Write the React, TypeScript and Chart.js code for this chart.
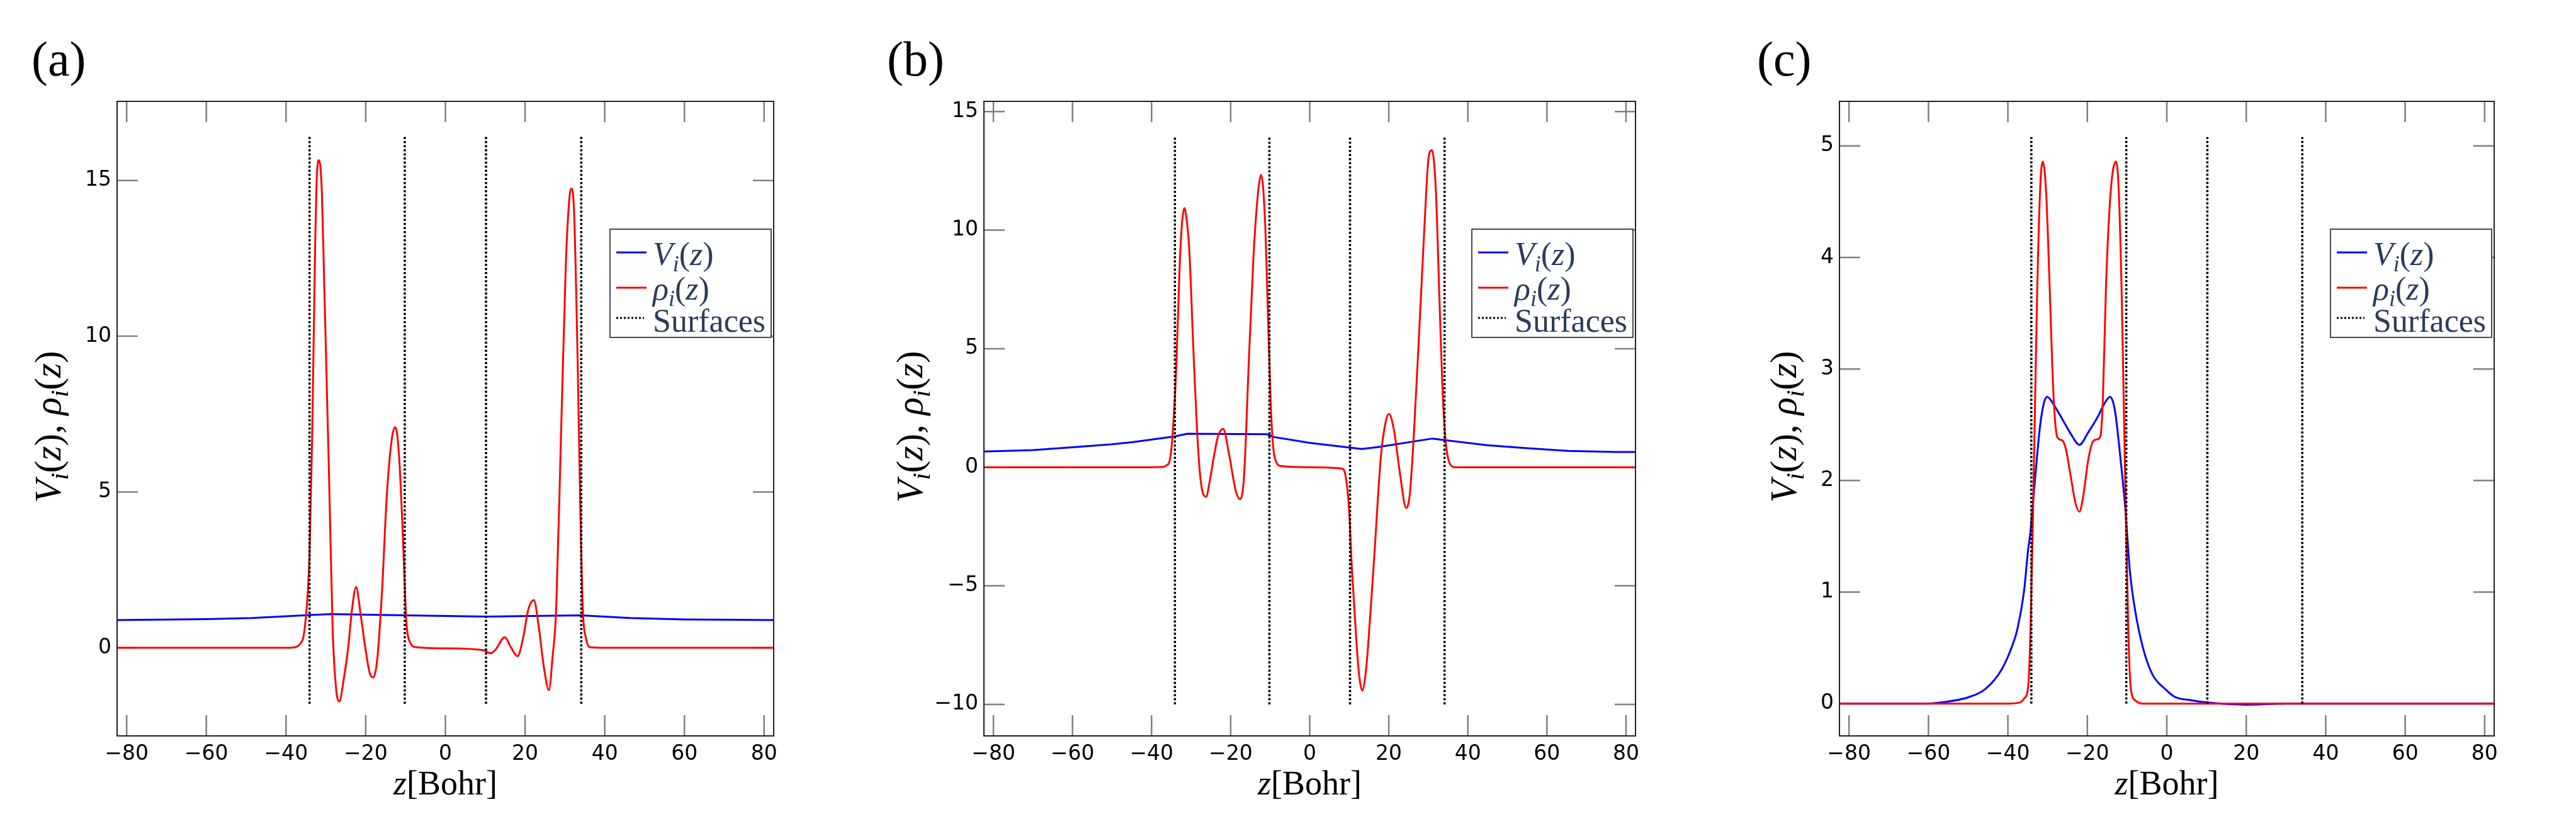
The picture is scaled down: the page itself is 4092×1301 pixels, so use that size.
import React, { useEffect, useRef } from 'react';
import { Chart, registerables } from 'chart.js';

Chart.register(...registerables);

// ---------- shared axis data ----------
const zRange = [-82.4, 82.4];
const xTickValues = [-80, -60, -40, -20, 0, 20, 40, 60, 80];
const surfaceZ = [-34.1, -10.2, 10.2, 34.1];

// ---------- panel (a) ----------
const aYTicks = [0, 5, 10, 15];
const aYRange = [-2.83, 17.54];
const aSurfSpan = [-1.8, 16.4];
const aV: [number, number][] = [
  [-82.4, 0.89], [-60, 0.92], [-48.6, 0.955], [-34.1, 1.05], [-28.6, 1.08], [-9.8, 1.04],
  [10.2, 1.0], [22, 1.02], [34.1, 1.04], [46.4, 0.955], [60, 0.91], [82.4, 0.89],
];
const aRho: [number, number][] = [
  [-82.4, 0], [-40, 0], [-37.7, 0.02], [-36.5, 0.12], [-35.6, 0.37], [-35.0, 1.0], [-34.5, 1.85],
  [-34.1, 3.0], [-33.45, 6.7], [-32.7, 12.8], [-32.2, 15.3], [-31.7, 15.65], [-31.0, 14.6],
  [-30.4, 11.6], [-29.2, 5.5], [-28.3, 0.6], [-27.4, -1.35], [-26.6, -1.72], [-25.5, -1.0],
  [-24.4, 0.0], [-23.45, 1.22], [-22.4, 1.95], [-21.3, 1.1], [-20.1, 0.0], [-18.9, -0.85],
  [-18.1, -0.95], [-17.1, -0.37], [-15.9, 1.83], [-14.7, 4.9], [-13.45, 6.7], [-12.55, 7.08],
  [-11.6, 6.1], [-10.7, 3.66], [-9.8, 0.85], [-8.9, 0.18], [-7.4, 0.02], [0, -0.02], [9.6, -0.08],
  [11.4, -0.18], [12.6, -0.06], [14.9, 0.34], [16.5, 0.0], [18.1, -0.27], [19.6, 0.37],
  [20.8, 1.22], [22.2, 1.53], [23.5, 0.61], [24.7, -0.61], [26.0, -1.36], [26.9, -0.3],
  [27.8, 1.22], [29.0, 6.7], [30.2, 12.2], [31.1, 14.4], [31.6, 14.74], [32.3, 14.0],
  [33.2, 9.16], [33.9, 4.27], [34.5, 1.22], [35.3, 0.3], [36.2, 0.02], [40, 0], [82.4, 0],
];

// ---------- panel (b) ----------
const bYTicks = [-10, -5, 0, 5, 10, 15];
const bYRange = [-11.33, 15.43];
const bSurfSpan = [-10.0, 13.95];
const bV: [number, number][] = [
  [-82.4, 0.66], [-70, 0.72], [-60, 0.84], [-50, 0.97], [-44.7, 1.06], [-34.1, 1.3],
  [-30.9, 1.41], [-10.9, 1.39], [-8.9, 1.27], [0, 1.03], [13.1, 0.77], [17.2, 0.85],
  [31.05, 1.21], [34.3, 1.14], [44.9, 0.93], [55, 0.8], [65.3, 0.69], [77.5, 0.64], [82.4, 0.64],
];
const bRho: [number, number][] = [
  [-82.4, 0], [-40, 0], [-37, 0.01], [-36.2, 0.08], [-35.4, 0.29], [-34.6, 1.57], [-33.7, 4.46],
  [-32.9, 8.5], [-32.3, 10.3], [-31.7, 10.93], [-31.1, 10.4], [-30.5, 9.3], [-29.3, 4.46],
  [-28.4, 1.25], [-27.5, -0.67], [-26.2, -1.24], [-25.3, -0.6], [-24.4, 0.29], [-23.2, 1.3],
  [-21.9, 1.62], [-20.3, 0.45], [-18.7, -1.0], [-17.6, -1.35], [-16.6, -0.35], [-15.4, 4.46],
  [-14.2, 8.96], [-13.0, 11.7], [-12.3, 12.33], [-11.3, 10.4], [-10.5, 6.07], [-9.7, 2.05],
  [-8.9, 0.45], [-7.25, 0.05], [0, 0], [8.2, -0.06], [9.05, -0.35], [9.9, -1.64], [10.7, -4.37],
  [11.9, -7.58], [12.6, -8.9], [13.3, -9.42], [14.0, -8.9], [14.75, -7.58], [16.4, -3.56],
  [18.0, 0.45], [19.2, 1.9], [20.05, 2.25], [21.3, 1.57], [22.9, -0.35], [24.4, -1.72],
  [25.3, -1.16], [26.3, 1.25], [27.8, 6.07], [29.0, 10.1], [30.1, 13.1], [30.9, 13.37],
  [31.9, 11.7], [32.7, 7.7], [33.5, 3.66], [34.3, 1.25], [35.5, 0.13], [36.8, 0], [82.4, 0],
];

// ---------- panel (c) ----------
const cYTicks = [0, 1, 2, 3, 4, 5];
const cYRange = [-0.29, 5.4];
const cSurfSpan = [0.0, 5.08];
const cV: [number, number][] = [
  [-82.4, 0], [-60, 0.0], [-56.8, 0.01], [-50, 0.056], [-45.7, 0.13], [-41.5, 0.31],
  [-38.4, 0.57], [-37.6, 0.67], [-35.9, 1.02], [-35.0, 1.35], [-34.3, 1.55], [-33.1, 2.04],
  [-31.9, 2.49], [-30.9, 2.7], [-30.1, 2.75], [-28.3, 2.67], [-26.3, 2.55], [-24.2, 2.42],
  [-22, 2.32], [-19.8, 2.43], [-17.4, 2.57], [-15.7, 2.69], [-14.3, 2.75], [-13.5, 2.7],
  [-12.9, 2.59], [-11.7, 2.21], [-10.5, 1.77], [-9.3, 1.19], [-8, 0.84], [-6, 0.5],
  [-3.6, 0.26], [-0.4, 0.13], [2, 0.06], [6, 0.03], [10, 0.01], [20, -0.01], [30, 0], [82.4, 0],
];
const cRho: [number, number][] = [
  [-82.4, 0], [-40, 0], [-37, 0.01], [-35.8, 0.05], [-34.9, 0.15], [-34.3, 0.67], [-33.5, 2.04],
  [-32.7, 3.58], [-31.9, 4.6], [-31.25, 4.86], [-30.4, 4.6], [-29.5, 3.75], [-28.7, 2.9],
  [-27.9, 2.45], [-27.1, 2.37], [-26.3, 2.36], [-25.4, 2.28], [-24.2, 2.04], [-23.0, 1.8],
  [-22.0, 1.72], [-21.0, 1.87], [-19.8, 2.18], [-18.6, 2.35], [-17.5, 2.37], [-16.7, 2.4],
  [-16.1, 2.72], [-15.3, 3.75], [-14.1, 4.6], [-12.8, 4.86], [-12.1, 4.6], [-11.3, 3.58],
  [-10.5, 2.04], [-9.7, 0.67], [-9.1, 0.15], [-8.0, 0.03], [-6, 0], [82.4, 0],
];

const panelLabels = ['(a)', '(b)', '(c)'];

// ---------- layout (pixels) ----------
type PanelCfg = {
  label: string;
  canvasLeft: number;
  canvasWidth: number;
  plotLeft: number;
  plotRight: number;
  labelX: number;
  yTitleOffset: number;
  yTicks: number[];
  yRange: number[];
  surfSpan: number[];
  V: [number, number][];
  rho: [number, number][];
  smoothV: boolean;
};

const H = 1301;
const PLOT_TOP = 161;
const PLOT_BOTTOM = 1169;
const Y_AXIS_W = 100;
const X_AXIS_H = 100;
const TICK_LEN = 33;

const panels: PanelCfg[] = [
  { label: panelLabels[0], canvasLeft: 0, canvasWidth: 1330, plotLeft: 186, plotRight: 1229, labelX: 50, yTitleOffset: 128, yTicks: aYTicks, yRange: aYRange, surfSpan: aSurfSpan, V: aV, rho: aRho, smoothV: false },
  { label: panelLabels[1], canvasLeft: 1330, canvasWidth: 1350, plotLeft: 1563, plotRight: 2598, labelX: 1409, yTitleOffset: 136, yTicks: bYTicks, yRange: bYRange, surfSpan: bSurfSpan, V: bV, rho: bRho, smoothV: false },
  { label: panelLabels[2], canvasLeft: 2680, canvasWidth: 1412, plotLeft: 2922, plotRight: 3962, labelX: 2791, yTitleOffset: 107, yTicks: cYTicks, yRange: cYRange, surfSpan: cSurfSpan, V: cV, rho: cRho, smoothV: true },
];

// ---------- rich text helpers ----------
type Seg = { t: string; font: string; dy?: number };
const SERIF = '"Liberation Serif", "Times New Roman", serif';

function measureRich(ctx: CanvasRenderingContext2D, segs: Seg[]) {
  let w = 0;
  for (const s of segs) {
    ctx.font = s.font;
    w += ctx.measureText(s.t).width;
  }
  return w;
}
function drawRich(ctx: CanvasRenderingContext2D, segs: Seg[], x: number, y: number) {
  let cx = x;
  for (const s of segs) {
    ctx.font = s.font;
    ctx.fillText(s.t, cx, y + (s.dy || 0));
    cx += ctx.measureText(s.t).width;
  }
}
function funcSegs(sym: string, size: number): Seg[] {
  const it = `italic ${size}px ${SERIF}`;
  const up = `${size}px ${SERIF}`;
  const sub = `italic ${Math.round(size * 0.7)}px ${SERIF}`;
  return [
    { t: sym, font: it },
    { t: 'i', font: sub, dy: size * 0.2 },
    { t: '(', font: up },
    { t: 'z', font: it },
    { t: ')', font: up },
  ];
}

function fmtTick(v: number | string) {
  const n = Number(v);
  return n < 0 ? '\u2212' + Math.abs(n) : String(n);
}

function makeDecor(p: PanelCfg) {
  return {
    id: 'decor',
    beforeDatasetsDraw(chart: any) {
      const { ctx, chartArea: a, scales } = chart;
      ctx.save();
      ctx.strokeStyle = '#808080';
      ctx.lineWidth = 2.5;
      ctx.beginPath();
      for (const v of xTickValues) {
        const px = scales.x.getPixelForValue(v);
        ctx.moveTo(px, a.top);
        ctx.lineTo(px, a.top + TICK_LEN);
        ctx.moveTo(px, a.bottom);
        ctx.lineTo(px, a.bottom - TICK_LEN);
      }
      for (const v of p.yTicks) {
        const py = scales.y.getPixelForValue(v);
        ctx.moveTo(a.left, py);
        ctx.lineTo(a.left + TICK_LEN, py);
        ctx.moveTo(a.right, py);
        ctx.lineTo(a.right - TICK_LEN, py);
      }
      ctx.stroke();
      ctx.restore();
    },
    afterDatasetsDraw(chart: any) {
      const { ctx, chartArea: a } = chart;
      ctx.save();
      ctx.strokeStyle = '#222';
      ctx.lineWidth = 2;
      ctx.strokeRect(a.left, a.top, a.right - a.left, a.bottom - a.top);
      ctx.restore();
    },
    afterDraw(chart: any) {
      const { ctx, chartArea: a } = chart;
      ctx.save();
      ctx.textAlign = 'left';
      ctx.textBaseline = 'alphabetic';

      // panel label
      ctx.fillStyle = '#000';
      ctx.font = `78px ${SERIF}`;
      ctx.fillText(p.label, p.labelX - p.canvasLeft, 120);

      // x title
      const xs = 54;
      const xSegs: Seg[] = [
        { t: 'z', font: `italic ${xs}px ${SERIF}` },
        { t: '[Bohr]', font: `${xs}px ${SERIF}` },
      ];
      const xw = measureRich(ctx, xSegs);
      drawRich(ctx, xSegs, (a.left + a.right) / 2 - xw / 2, 1262);

      // y title (rotated)
      const ys = 59;
      const ySegs: Seg[] = [
        ...funcSegs('V', ys),
        { t: ', ', font: `${ys}px ${SERIF}` },
        ...funcSegs('\u03C1', ys),
      ];
      const yw = measureRich(ctx, ySegs);
      const bx = a.left - p.yTitleOffset + ys * 0.64;
      ctx.save();
      ctx.translate(bx, 678);
      ctx.rotate(-Math.PI / 2);
      drawRich(ctx, ySegs, -yw / 2, 0);
      ctx.restore();

      // legend
      const lw = 256, lh = 172;
      const lx = a.right - 4 - lw, ly = 364;
      ctx.fillStyle = '#fff';
      ctx.fillRect(lx, ly, lw, lh);
      ctx.strokeStyle = '#111';
      ctx.lineWidth = 1.5;
      ctx.strokeRect(lx, ly, lw, lh);
      const ls = 52;
      const rows = [
        { color: '#0000ff', dash: [] as number[], lineY: 37, base: 57, len: 48, segs: funcSegs('V', ls) },
        { color: '#ff0000', dash: [] as number[], lineY: 93, base: 112, len: 48, segs: funcSegs('\u03C1', ls) },
        { color: '#000000', dash: [3, 3], lineY: 141, base: 163, len: 44, segs: [{ t: 'Surfaces', font: `${ls}px ${SERIF}` }] as Seg[] },
      ];
      for (const r of rows) {
        ctx.strokeStyle = r.color;
        ctx.lineWidth = 3;
        ctx.setLineDash(r.dash);
        ctx.beginPath();
        ctx.moveTo(lx + 10, ly + r.lineY);
        ctx.lineTo(lx + 10 + r.len, ly + r.lineY);
        ctx.stroke();
        ctx.setLineDash([]);
        ctx.fillStyle = '#2b3c5a';
        drawRich(ctx, r.segs, lx + 68, ly + r.base);
      }
      ctx.restore();
    },
  };
}

function buildConfig(p: PanelCfg): any {
  const surfPts: { x: number; y: number | null }[] = [];
  for (const s of surfaceZ) {
    surfPts.push({ x: s, y: p.surfSpan[0] });
    surfPts.push({ x: s, y: p.surfSpan[1] });
    surfPts.push({ x: s, y: null });
  }
  const localLeft = p.plotLeft - p.canvasLeft;
  const localRight = p.plotRight - p.canvasLeft;
  return {
    type: 'line',
    data: {
      datasets: [
        {
          label: 'V_i(z)',
          data: p.V.map(([x, y]) => ({ x, y })),
          borderColor: '#0000ff',
          borderWidth: 3,
          pointRadius: 0,
          tension: 0,
          cubicInterpolationMode: p.smoothV ? 'monotone' : 'default',
          order: 3,
        },
        {
          label: 'rho_i(z)',
          data: p.rho.map(([x, y]) => ({ x, y })),
          borderColor: '#ff0000',
          borderWidth: 3,
          pointRadius: 0,
          cubicInterpolationMode: 'monotone',
          order: 2,
        },
        {
          label: 'Surfaces',
          data: surfPts,
          borderColor: '#000000',
          borderWidth: 3.5,
          borderDash: [3.5, 3],
          pointRadius: 0,
          tension: 0,
          spanGaps: false,
          order: 1,
        },
      ],
    },
    options: {
      animation: false,
      responsive: false,
      maintainAspectRatio: false,
      events: [],
      layout: {
        padding: {
          left: localLeft - Y_AXIS_W,
          right: p.canvasWidth - localRight,
          top: PLOT_TOP,
          bottom: H - PLOT_BOTTOM - X_AXIS_H,
        },
      },
      plugins: { legend: { display: false }, tooltip: { enabled: false }, title: { display: false } },
      scales: {
        x: {
          type: 'linear',
          min: zRange[0],
          max: zRange[1],
          afterBuildTicks: (s: any) => { s.ticks = xTickValues.map((v) => ({ value: v })); },
          afterFit: (s: any) => { s.height = X_AXIS_H; },
          ticks: {
            callback: (v: any) => fmtTick(v),
            font: { family: '"DejaVu Sans"', size: 33 },
            color: '#000',
            padding: 10,
            maxRotation: 0,
            autoSkip: false,
          },
          grid: { display: false, drawTicks: false },
          border: { display: false },
        },
        y: {
          type: 'linear',
          min: p.yRange[0],
          max: p.yRange[1],
          afterBuildTicks: (s: any) => { s.ticks = p.yTicks.map((v) => ({ value: v })); },
          afterFit: (s: any) => { s.width = Y_AXIS_W; },
          ticks: {
            callback: (v: any) => fmtTick(v),
            font: { family: '"DejaVu Sans"', size: 33 },
            color: '#000',
            padding: 9,
            autoSkip: false,
          },
          grid: { display: false, drawTicks: false },
          border: { display: false },
        },
      },
    },
    plugins: [makeDecor(p)],
  };
}

function Panel({ p }: { p: PanelCfg }) {
  const ref = useRef<HTMLCanvasElement | null>(null);
  useEffect(() => {
    if (!ref.current) return;
    const chart = new Chart(ref.current, buildConfig(p));
    return () => chart.destroy();
  }, [p]);
  return (
    <canvas
      ref={ref}
      width={p.canvasWidth}
      height={H}
      style={{ position: 'absolute', left: p.canvasLeft, top: 0, width: p.canvasWidth, height: H }}
    />
  );
}

export default function App() {
  return (
    <div style={{ position: 'fixed', left: 0, top: 0, width: 4092, height: H, background: '#ffffff', overflow: 'hidden' }}>
      {panels.map((p) => (
        <Panel key={p.label} p={p} />
      ))}
    </div>
  );
}
